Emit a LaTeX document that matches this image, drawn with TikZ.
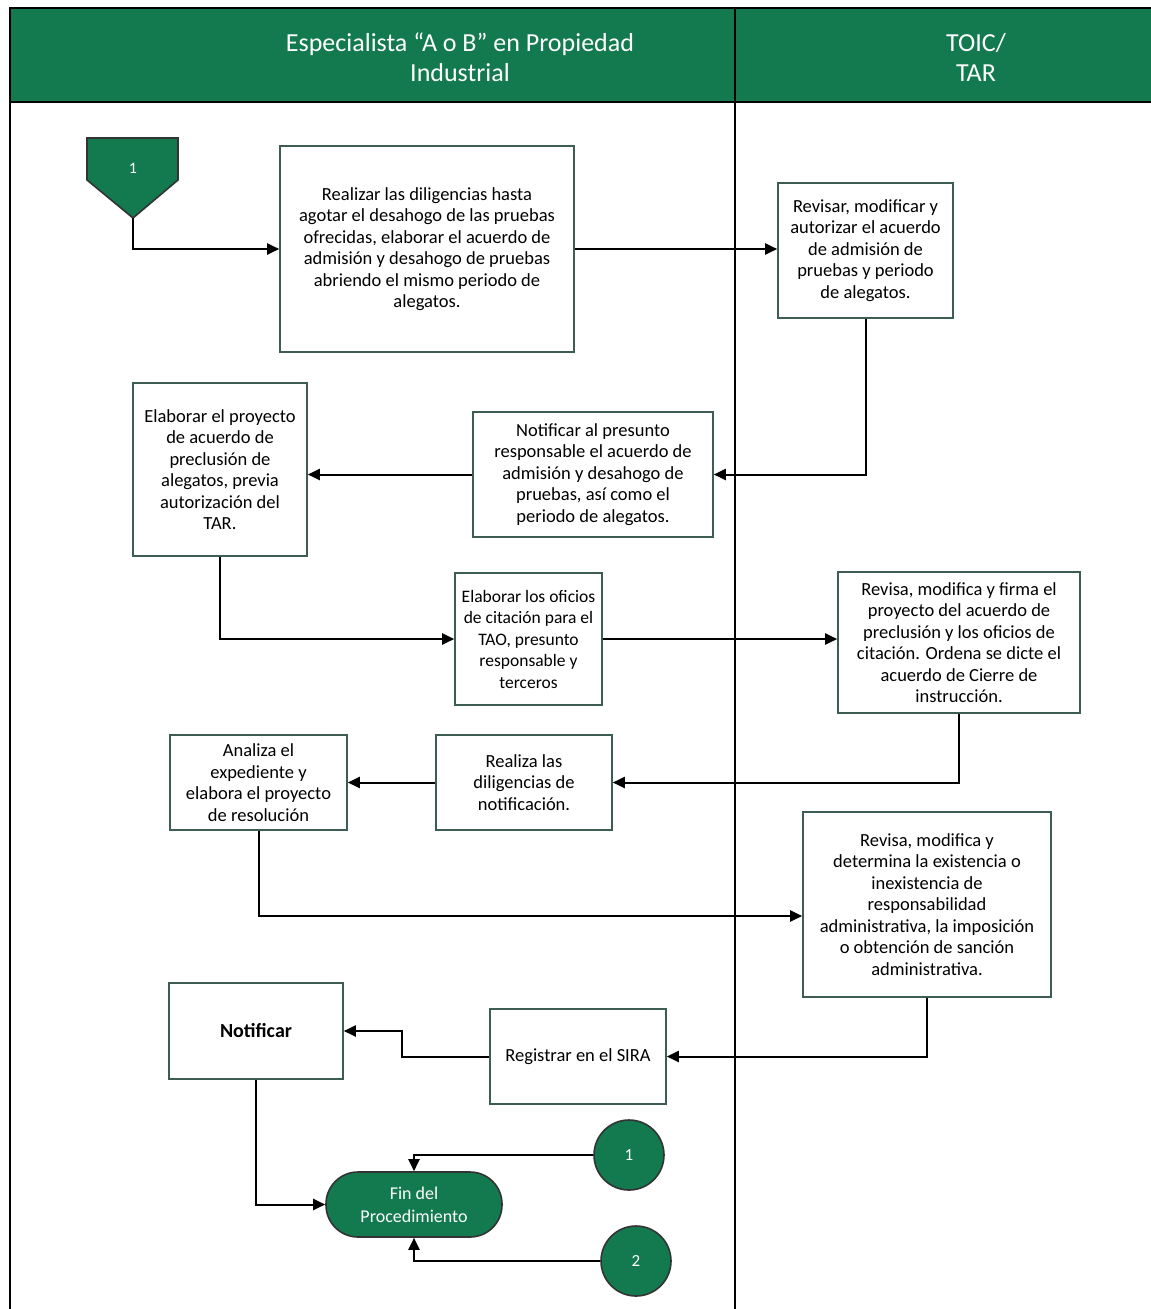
\documentclass[tikz,border=0pt]{standalone}
\usepackage{fontspec}
\setmainfont{Carlito}
\usetikzlibrary{arrows.meta,calc}

\definecolor{lanegreen}{RGB}{18,122,78}
\definecolor{boxline}{RGB}{60,92,84}

\begin{document}
\begin{tikzpicture}[x=1pt,y=-1pt,
  step box/.style={draw=boxline,line width=1.6pt,fill=white,align=center,
    inner sep=2pt,font=\fontsize{18.5}{21.5}\selectfont},
  flow/.style={line width=2pt,-{Triangle[length=12pt,width=11pt]}},
  green disk/.style={circle,draw=black!80,line width=1.6pt,fill=lanegreen,
    minimum size=70pt,text=white,font=\fontsize{17}{20}\selectfont},
  lane head/.style={text=white,align=center,font=\fontsize{26}{30}\selectfont}]

\useasboundingbox (0,0) rectangle (1151,1309);

% lanes
\fill[lanegreen] (10,8) rectangle (1151,102);
\draw[line width=1.6pt] (10,1309) -- (10,8) -- (1151,8);
\draw[line width=1.6pt] (10,102) -- (1151,102);
\draw[line width=1.4pt] (735,8) -- (735,1309);
\node[lane head] (laneA) at (460,57) {Especialista “A o B” en Propiedad\\Industrial};
\node[lane head] (laneB) at (976,57) {TOIC/\\TAR};

% off-page start
\coordinate (p1) at (133,218);
\filldraw[fill=lanegreen,draw=black!80,line width=1.6pt]
  (87,138) -- (178,138) -- (178,180) -- (p1) -- (87,180) -- cycle;
\node[text=white,font=\fontsize{16}{18}\selectfont] (start) at (133,168) {1};

% steps
\node[step box,minimum width=294pt,minimum height=206pt] (realizar) at (427,249)
  {Realizar las diligencias hasta\\agotar el desahogo de las pruebas\\ofrecidas, elaborar el acuerdo de\\admisión y desahogo de pruebas\\abriendo el mismo periodo de\\alegatos.};
\node[step box,minimum width=175pt,minimum height=135pt] (revisar) at (865.5,250.5)
  {Revisar, modificar y\\autorizar el acuerdo\\de admisión de\\pruebas y periodo\\de alegatos.};
\node[step box,minimum width=240pt,minimum height=125pt] (notifA) at (593,474.5)
  {Notificar al presunto\\responsable el acuerdo de\\admisión y desahogo de\\pruebas, así como el\\periodo de alegatos.};
\node[step box,minimum width=174pt,minimum height=173pt] (proyecto) at (220,469.5)
  {Elaborar el proyecto\\de acuerdo de\\preclusión de\\alegatos, previa\\autorización del\\TAR.};
\node[step box,minimum width=147pt,minimum height=132pt,font=\fontsize{17.5}{21.5}\selectfont] (oficios) at (528.5,639)
  {Elaborar los oficios\\de citación para el\\TAO, presunto\\responsable y\\terceros};
\node[step box,minimum width=242pt,minimum height=141pt] (firma) at (959,642.5)
  {Revisa, modifica y firma el\\proyecto del acuerdo de\\preclusión y los oficios de\\citación. Ordena se dicte el\\acuerdo de Cierre de\\instrucción.};
\node[step box,minimum width=176pt,minimum height=95pt] (diligencia) at (524,782.5)
  {Realiza las\\diligencias de\\notificación.};
\node[step box,minimum width=177pt,minimum height=95pt] (analiza) at (258.5,782.5)
  {Analiza el\\expediente y\\elabora el proyecto\\de resolución};
\node[step box,minimum width=248pt,minimum height=185pt] (determina) at (927,904.5)
  {Revisa, modifica y\\determina la existencia o\\inexistencia de\\responsabilidad\\administrativa, la imposición\\o obtención de sanción\\administrativa.};
\node[step box,minimum width=176pt,minimum height=95pt] (sira) at (578,1056.5)
  {Registrar en el SIRA};
\node[step box,minimum width=174pt,minimum height=96pt,font=\fontsize{20}{22}\selectfont\bfseries] (notificar) at (256,1031)
  {Notificar};

% end and connectors
\node[draw=black!80,line width=1.6pt,fill=lanegreen,rounded corners=32pt,
  minimum width=176pt,minimum height=65pt,text=white,align=center,
  font=\fontsize{18}{23}\selectfont] (fin) at (414,1204.5) {Fin del\\Procedimiento};
\node[green disk] (c1) at (629,1155) {1};
\node[green disk] (c2) at (636,1261) {2};

% flow
\draw[flow] (p1) |- (realizar.west);
\draw[flow] (realizar.east) -- (realizar.east -| revisar.west);
\draw[flow] (revisar.south) |- (notifA.east);
\draw[flow] (notifA.west) -- (notifA.west -| proyecto.east);
\draw[flow] (proyecto.south) |- (oficios.west);
\draw[flow] (oficios.east) -- (oficios.east -| firma.west);
\draw[flow] (firma.south) |- (diligencia.east);
\draw[flow] (diligencia.west) -- (analiza.east);
\draw[flow] (analiza.south) |- ([yshift=-11.5pt]determina.west);
\draw[flow] (determina.south) |- (sira.east);
\draw[flow] (sira.west) -- ++(-87,0) |- (notificar.east);
\draw[flow] (notificar.south) |- (fin.west);
\draw[flow] (c1.west) -| (fin.north);
\draw[flow] (c2.west) -| (fin.south);

\end{tikzpicture}
\end{document}
